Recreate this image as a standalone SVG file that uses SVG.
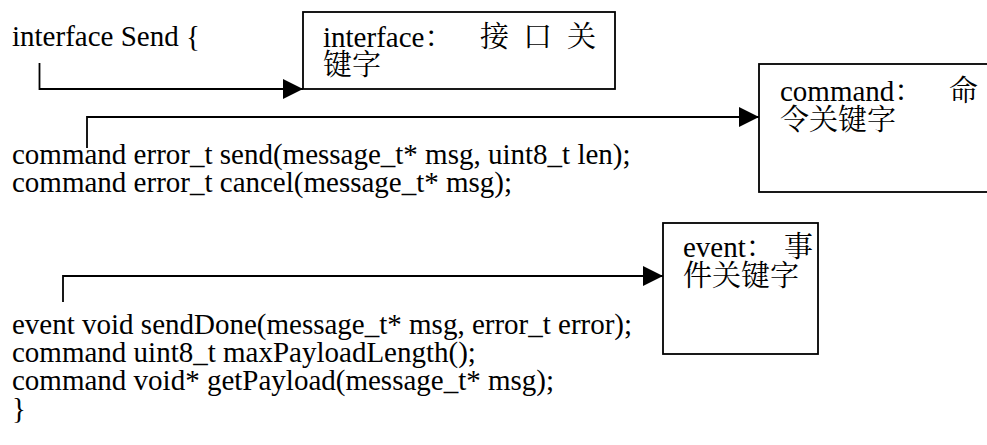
<svg xmlns="http://www.w3.org/2000/svg" width="987" height="445" viewBox="0 0 987 445">
<style>
  .t { font-family: "Liberation Serif", "Noto Serif CJK SC", "Noto Sans CJK SC", serif; font-size: 29px; fill: #000; }
  .box { fill: #fff; stroke: #000; stroke-width: 1.8; }
  .con { fill: none; stroke: #000; stroke-width: 1.8; }
</style>
<defs>
  <marker id="arr" markerUnits="userSpaceOnUse" markerWidth="22" markerHeight="22" refX="20" refY="10" orient="auto">
    <path d="M0,0 L20,10 L0,20 Z" fill="#000"/>
  </marker>
</defs>
<rect x="0" y="0" width="987" height="445" fill="#fff"/>

<g id="code">
  <text class="t" x="12" y="46">interface Send {</text>
  <text class="t" x="12" y="164">command error_t send(message_t* msg, uint8_t len);</text>
  <text class="t" x="12" y="192">command error_t cancel(message_t* msg);</text>
  <text class="t" x="12" y="334">event void sendDone(message_t* msg, error_t error);</text>
  <text class="t" x="12" y="362">command uint8_t maxPayloadLength();</text>
  <text class="t" x="12" y="390">command void* getPayload(message_t* msg);</text>
  <text class="t" x="12" y="418">}</text>
</g>

<g id="node-interface">
  <rect class="box" x="303" y="12" width="312" height="77"/>
  <text class="t" x="323" y="47">interface：<tspan x="480">接</tspan><tspan x="523">口</tspan><tspan x="567">关</tspan></text>
  <text class="t" x="323" y="75">键字</text>
</g>

<g id="node-command">
  <rect class="box" x="759" y="64" width="240" height="128"/>
  <text class="t" x="780" y="101">command：<tspan x="949">命</tspan></text>
  <text class="t" x="780" y="130">令关键字</text>
</g>

<g id="node-event">
  <rect class="box" x="663" y="223" width="155" height="131"/>
  <text class="t" x="683" y="257">event：<tspan x="784">事</tspan></text>
  <text class="t" x="683" y="286">件关键字</text>
</g>

<g id="connectors">
  <path class="con" d="M39.5,63 V89 H303" marker-end="url(#arr)"/>
  <path class="con" d="M87,148 V117 H759" marker-end="url(#arr)"/>
  <path class="con" d="M63,302 V276 H663" marker-end="url(#arr)"/>
</g>
</svg>
